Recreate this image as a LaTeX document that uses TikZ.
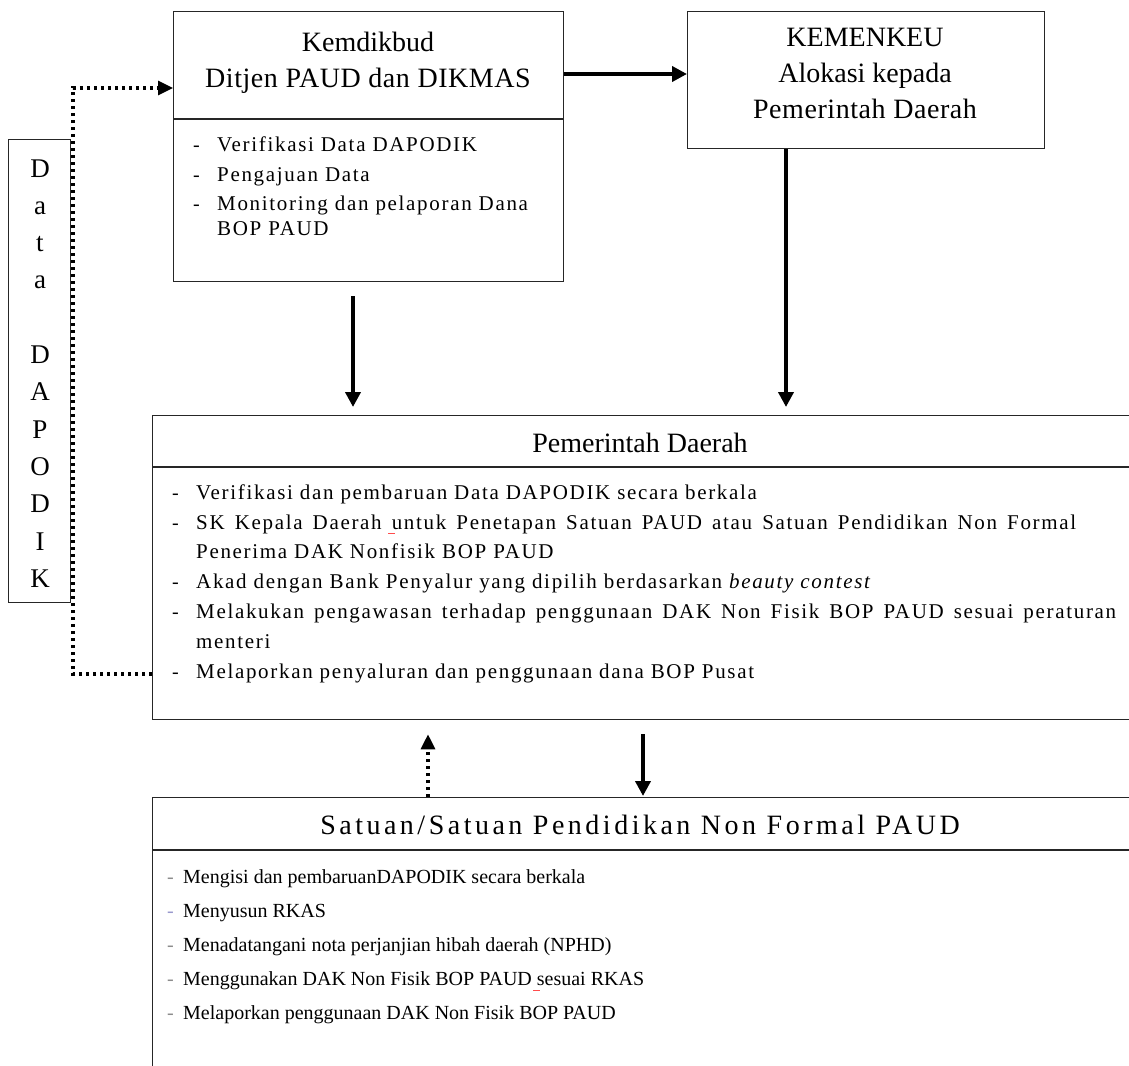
\documentclass[tikz,border=0pt]{standalone}
\usepackage{fontspec}
\setmainfont{Liberation Serif}
\usetikzlibrary{arrows.meta}
\tikzset{
  boxs/.style={draw=black!85, line width=1.3pt, inner sep=0pt},
  hd/.style={font=\fontsize{28}{32}\selectfont, inner sep=0pt, anchor=base},
  li/.style={font=\fontsize{20}{24}\selectfont, inner sep=0pt, anchor=base west},
  lw/.style={font=\fontsize{21}{24}\selectfont\addfontfeature{LetterSpace=8}, inner sep=0pt, anchor=base west},
  vl/.style={font=\fontsize{27}{30}\selectfont, inner sep=0pt, anchor=base},
  arr/.style={line width=4.5pt, -{Triangle[length=15pt,width=15pt]}},
  dots/.style={line width=3.2pt, dash pattern=on 3.2pt off 3.8pt},
}
\begin{document}
\begin{tikzpicture}[x=1pt,y=-1pt]
\useasboundingbox (0,0) rectangle (1129,1065);
\clip (0,0) rectangle (1129,1065);
\fill[white] (0,0) rectangle (1129,1065);

% boxes
\node[boxs, minimum width=390pt, minimum height=270pt, anchor=north west] (kem) at (173,11) {};
\node[boxs, minimum width=357pt, minimum height=137pt, anchor=north west] (keu) at (687,11) {};
\node[boxs, minimum width=62pt, minimum height=463pt, anchor=north west] (dap) at (8,139) {};
\node[boxs, minimum width=1100pt, minimum height=304pt, anchor=north west] (pem) at (152,415) {};
\node[boxs, minimum width=1100pt, minimum height=400pt, anchor=north west] (sat) at (152,797) {};

% dividers
\draw[boxs] (kem.west |- 0,119) -- (kem.east |- 0,119);
\draw[boxs] (pem.west |- 0,467) -- (pem.east |- 0,467);
\draw[boxs] (sat.west |- 0,850) -- (sat.east |- 0,850);

% headers
\node[hd] (kemA) at (368,52) {Kemdikbud};
\node[hd] (kemB) at (368,88) {\addfontfeature{LetterSpace=2}Ditjen PAUD dan DIKMAS};
\node[hd] (keuA) at (865,47) {KEMENKEU};
\node[hd] (keuB) at (865,82) {Alokasi kepada};
\node[hd] (keuC) at (865,118) {\addfontfeature{LetterSpace=2}Pemerintah Daerah};
\node[hd] (pemA) at (640,452) {Pemerintah Daerah};
\node[hd] (satA) at (640,834) {\addfontfeature{LetterSpace=12.5}Satuan/Satuan Pendidikan Non Formal PAUD};

% Kemdikbud list
\node[li] (k1d) at (193,151) {-};
\node[lw] (k1) at (217,151) {Verifikasi Data DAPODIK};
\node[li] (k2d) at (193,181) {-};
\node[lw] (k2) at (217,181) {Pengajuan Data};
\node[li] (k3d) at (193,210) {-};
\node[lw] (k3) at (217,210) {Monitoring dan pelaporan Dana};
\node[lw] (k3b) at (217,235) {BOP PAUD};

% Pemerintah list
\node[li] (p1d) at (172,499) {-};
\node[lw] (p1) at (196,499) {Verifikasi dan pembaruan Data DAPODIK secara berkala};
\node[li] (p2d) at (172,529) {-};
\node[lw] (p2) at (196,529) {\makebox[880pt][s]{SK Kepala Daerah untuk Penetapan Satuan PAUD atau Satuan Pendidikan Non Formal}};
\node[lw] (p2b) at (196,558) {Penerima DAK Nonfisik BOP PAUD};
\node[li] (p3d) at (172,588) {-};
\node[lw] (p3) at (196,588) {Akad dengan Bank Penyalur yang dipilih berdasarkan \textit{beauty contest}};
\node[li] (p4d) at (172,618) {-};
\node[lw] (p4) at (196,618) {\makebox[920pt][s]{Melakukan pengawasan terhadap penggunaan DAK Non Fisik BOP PAUD sesuai peraturan}};
\node[lw] (p4b) at (196,648) {menteri};
\node[li] (p5d) at (172,678) {-};
\node[lw] (p5) at (196,678) {Melaporkan penyaluran dan penggunaan dana BOP Pusat};

% Satuan list
\node[li, text=black!45] (s1d) at (167,883) {-};
\node[li] (s1) at (183,883) {Mengisi dan pembaruanDAPODIK secara berkala};
\node[li, text=blue!35!gray!60] (s2d) at (167,917) {-};
\node[li] (s2) at (183,917) {Menyusun RKAS};
\node[li, text=black!45] (s3d) at (167,951) {-};
\node[li] (s3) at (183,951) {Menadatangani nota perjanjian hibah daerah (NPHD)};
\node[li, text=black!45] (s4d) at (167,985) {-};
\node[li] (s4) at (183,985) {Menggunakan DAK Non Fisik BOP PAUD sesuai RKAS};
\node[li, text=black!45] (s5d) at (167,1019) {-};
\node[li] (s5) at (183,1019) {Melaporkan penggunaan DAK Non Fisik BOP PAUD};

% spell marks
\draw[red!70, line width=0.9pt] (388,533) -- (395,533);
\draw[red!70, line width=0.9pt] (533,990) -- (540,990);

% vertical Data DAPODIK
\foreach \c [count=\i from 0] in {D,a,t,a,{},D,A,P,O,D,I,K}{
  \node[vl] (v\i) at (40,177+37.3*\i) {\c};
}

% connectors
\coordinate (c1) at (73,674);
\coordinate (c2) at (73,88);
\draw[arr] (kem.east |- 0,74) -- (keu.west |- 0,74);
\draw[arr, shorten <=14pt, shorten >=8pt] (kem.south -| 353,0) -- (pem.north -| 353,0);
\draw[arr, shorten >=8pt] (keu.south -| 786,0) -- (pem.north -| 786,0);
\draw[arr, shorten <=14pt, shorten >=1pt] (pem.south -| 643,0) -- (sat.north -| 643,0);
\draw[dots, -{Triangle[length=15pt,width=14pt]}, shorten >=14pt] (sat.north -| 428,0) -- (pem.south -| 428,0);
\draw[dots, -{Triangle[length=15pt,width=14pt]}] (pem.west |- c1) -- (c1) -- (c2) -- (kem.west |- c2);
\end{tikzpicture}
\end{document}
